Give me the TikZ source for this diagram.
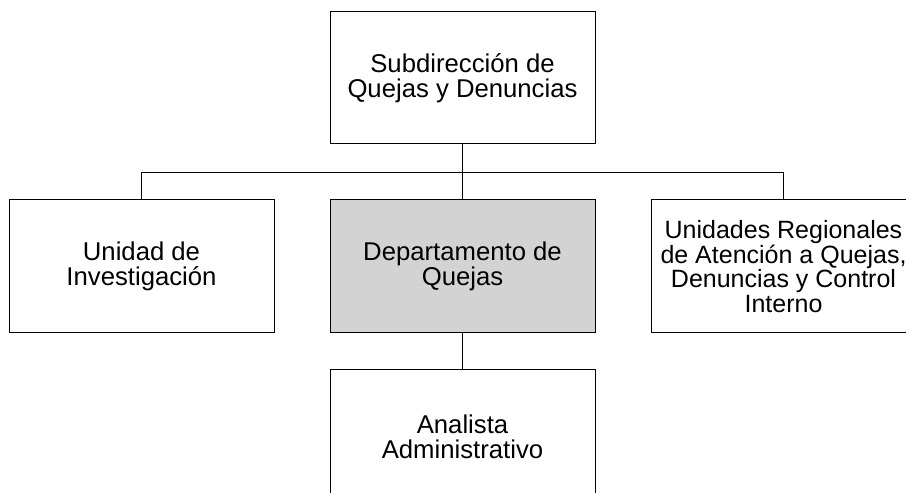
\documentclass[tikz,border=0pt]{standalone}
\usepackage{fontspec}
\setmainfont{Liberation Sans}
\usepackage{tikz}
\usetikzlibrary{positioning}

\definecolor{deptgray}{RGB}{211,211,211}
\tikzset{unitbox/.style={shape=rectangle, draw=black, line width=1pt, fill=white,
    minimum width=265pt, minimum height=133pt, align=center,
    font=\fontsize{25.7}{24.7}\selectfont}}

\begin{document}
\begin{tikzpicture}
      \useasboundingbox (0,0) rectangle (906pt,493pt);
      \node[unitbox, minimum height=132pt] (Subd) at (462.5pt,415pt)
           {Subdirección de\\Quejas y Denuncias} ;
      \node[unitbox, fill=deptgray] (Dep)
           [below = 55pt of Subd] {Departamento de\\Quejas};
      \node[unitbox] (Inv)
           [left = 55pt of Dep] {Unidad de\\Investigación};
      \node[unitbox, font=\fontsize{25}{24.7}\selectfont] (Unid)
           [right = 55pt of Dep] {Unidades Regionales\\de Atención a Quejas,\\Denuncias y Control\\Interno};
      \node[unitbox] (Admin)
           [below = 36pt of Dep] {Analista\\Administrativo};

      \path (Subd.south) ++(0,-28pt) coordinate (bus);
      \draw [line width=1pt] (Subd) -- (Dep);
      \draw [line width=1pt] (Inv.north) |- (bus) -| (Unid.north);
      \draw [line width=1pt] (Dep) -- (Admin);
  \end{tikzpicture}
\end{document}
